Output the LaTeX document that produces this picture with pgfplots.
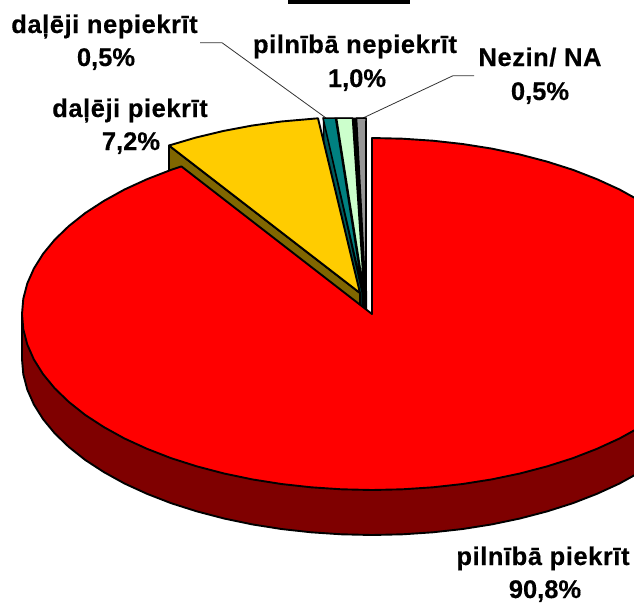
\documentclass[border=0pt]{standalone}
\usepackage{fontspec}
\setmainfont[BoldFeatures={FakeBold=0.35}]{Liberation Sans}
\newfontfamily\lab[LetterSpace=2.2,BoldFeatures={FakeBold=0.35,LetterSpace=2.2}]{Liberation Sans}
\usepackage{pgfplots}
\pgfplotsset{compat=1.18}
\definecolor{rimred}{HTML}{7F0000}
\definecolor{gold}{HTML}{FFCC00}
\definecolor{olive}{HTML}{806600}
\definecolor{tealc}{HTML}{008080}
\definecolor{dteal}{HTML}{004040}
\definecolor{lgreen}{HTML}{CCFFCC}
\definecolor{greyc}{HTML}{969696}
\pgfplotsset{slice/.style={draw=black,line width=1.9pt,line join=round,mark=none},
  thin slice/.style={draw=black,line width=1.5pt,line join=round,mark=none}}
\newcommand{\tw}[3]{\node[anchor=base,inner sep=0pt,font=\fontsize{25.5}{25.5}\selectfont\lab\bfseries] at (axis cs:#1,#2) {#3};}
\newcommand{\tn}[3]{\node[anchor=base,inner sep=0pt,font=\fontsize{25.5}{25.5}\selectfont\bfseries] at (axis cs:#1,#2) {#3};}
\begin{document}
\begin{tikzpicture}[x=1pt,y=1pt]
\path[use as bounding box] (0,0) rectangle (634pt,603pt);
\begin{axis}[at={(0pt,0pt)},anchor=south west,scale only axis,width=634pt,height=603pt,
  xmin=0,xmax=634,ymin=0,ymax=603,y dir=reverse,hide axis,clip=true]
% title bar
\addplot[fill=black,draw=none,mark=none] coordinates {(288,-2)(410,-2)(410,4)(288,4)} -- cycle;
% leaders
\addplot[draw=black!80,line width=0.8pt,mark=none] coordinates {(200,42.7)(222,42.7)(326,118)};
\addplot[draw=black!80,line width=0.8pt,mark=none] coordinates {(474,75.7)(453,75.7)(363,118)};
% walls of the small slices
\addplot[fill=black,draw=black,line width=1pt,mark=none] coordinates {(335,118)(366.3,118)(366.5,296)(366.5,338)(362,338)(362,292)} -- cycle;
\addplot[fill=greyc,thin slice] coordinates {(356.5,118)(366,118)(365.7,293)} -- cycle;
\addplot[fill=lgreen,thin slice] coordinates {(336.5,118)(352.5,118)(364,292)} -- cycle;
\addplot[fill=dteal!60!tealc,thin slice] coordinates {(323.5,118)(362,292)(362,337)(323.5,163)} -- cycle;
\addplot[fill=tealc,thin slice] coordinates {(323,118)(335.5,118)(363,292)} -- cycle;
% gold slice
\addplot[fill=olive,slice] coordinates {(169,145.5)(360,293)(360,338)(169,190.5)} -- cycle;
\addplot[fill=gold,slice] coordinates {(360,293)(169,145.5)(195.7,137.6)(223.2,131)(251.8,125.6)(281.3,121.5)(318,118.3)} -- cycle;
% red wall
\addplot[fill=rimred,slice] coordinates {(640.1,314)(640.1,472.1)(619.5,483.5)(597,493.8)(572.8,503.2)(547,511.4)(519.9,518.5)(491.7,524.4)(462.6,529)(432.8,532.3)(402.5,534.3)(372,535)(341.5,534.3)(311.2,532.3)(281.4,529)(252.3,524.4)(224.1,518.5)(197,511.4)(171.2,503.2)(147,493.8)(124.5,483.5)(103.9,472.1)(85.3,460)(68.9,447)(54.8,433.4)(43.1,419.2)(33.9,404.5)(27.3,389.6)(23.3,374.3)(22,359)(22,314)} -- cycle;
% red top
\addplot[fill=red,slice] coordinates {(372,314)(372,138)(402.5,138.7)(432.8,140.7)(462.6,144)(491.7,148.6)(519.9,154.5)(547,161.6)(572.8,169.8)(597,179.2)(619.5,189.5)(640.1,200.9)(640.1,427.1)(619.5,438.5)(597,448.8)(572.8,458.2)(547,466.4)(519.9,473.5)(491.7,479.4)(462.6,484)(432.8,487.3)(402.5,489.3)(372,490)(341.5,489.3)(311.2,487.3)(281.4,484)(252.3,479.4)(224.1,473.5)(197,466.4)(171.2,458.2)(147,448.8)(124.5,438.5)(103.9,427.1)(85.3,415)(68.9,402)(54.8,388.4)(43.1,374.2)(33.9,359.5)(27.3,344.6)(23.3,329.3)(22,314)(23.3,298.7)(27.3,283.4)(33.9,268.5)(43.1,253.8)(54.8,239.6)(68.9,226)(85.3,213)(103.9,200.9)(124.5,189.5)(147,179.2)(171.2,169.8)(181.4,166.4)} -- cycle;
% labels
\tw{104.5}{33}{daļēji nepiekrīt}
\tn{106}{66}{0,5\%}
\tw{130}{117}{daļēji piekrīt}
\tn{131}{150}{7,2\%}
\tw{355}{53}{pilnībā nepiekrīt}
\tn{357}{87}{1,0\%}
\tw{540}{66}{Nezin/ NA}
\tn{540}{100}{0,5\%}
\tw{543}{565}{pilnībā piekrīt}
\tn{545}{598}{90,8\%}
\end{axis}
\end{tikzpicture}
\end{document}
